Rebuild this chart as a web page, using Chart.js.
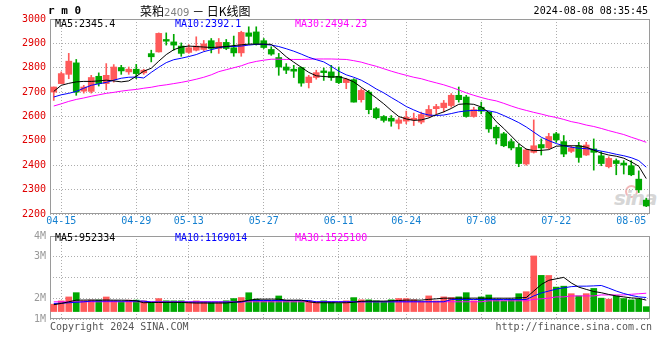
<!DOCTYPE html>
<html><head><meta charset="utf-8">
<script src="https://cdn.jsdelivr.net/npm/chart.js@4.4.1/dist/chart.umd.min.js"></script>
<style>
html,body{margin:0;padding:0;background:#fff;}
#wrap{position:relative;width:660px;height:360px;overflow:hidden;font-family:"DejaVu Sans Mono",monospace;font-size:10px;background:#fff;}
.t{position:absolute;white-space:pre;line-height:12px;z-index:2;}
canvas{position:absolute;left:0;z-index:1;}
#pc{top:0;}
#vc{top:226px;}
#wm{position:absolute;left:614px;top:186px;z-index:0;font-family:"DejaVu Sans",sans-serif;font-style:italic;font-weight:bold;font-size:20px;color:#d6d6d6;letter-spacing:-1px;}
#wmc{position:absolute;left:625px;top:185px;width:9px;height:9px;border:2px solid #f2b8b8;border-radius:50%;z-index:0;}
</style></head>
<body>
<div id="wrap">
  <div id="wmc"></div><div id="wm">sina</div>
  <div class="t" style="left:48px;top:5px;font-weight:bold;font-size:11px;">r m 0</div>
  <div class="t" style="left:140px;top:3px;font-family:'Noto Sans CJK SC',sans-serif;font-size:12px;line-height:16px;">菜粕<span style="color:#808080;font-family:'DejaVu Sans',sans-serif;font-size:10px;">2409</span> － 日K线图</div>
  <div class="t" style="right:12px;top:5px;">2024-08-08 08:35:45</div>
  <div class="t" id="lg1" style="left:55px;top:18px;color:#000;"></div>
  <div class="t" id="lg2" style="left:175px;top:18px;color:#0000ff;"></div>
  <div class="t" id="lg3" style="left:295px;top:18px;color:#ff00ff;"></div>
  <div class="t" id="vl1" style="left:55px;top:232px;color:#000;"></div>
  <div class="t" id="vl2" style="left:175px;top:232px;color:#0000ff;"></div>
  <div class="t" id="vl3" style="left:295px;top:232px;color:#ff00ff;"></div>
  <div class="t" style="left:50px;top:321px;color:#555;">Copyright 2024 SINA.COM</div>
  <div class="t" style="right:8px;top:321px;color:#555;">http://finance.sina.com.cn</div>
  <canvas id="pc" width="660" height="230"></canvas>
  <canvas id="vc" width="660" height="134"></canvas>
</div>
<script>
// ---------- data ----------
const dates = ['04-15','04-16','04-17','04-18','04-19','04-22','04-23','04-24','04-25','04-26','04-29','04-30',
'05-06','05-07','05-08','05-09','05-10','05-13','05-14','05-15','05-16','05-17','05-20','05-21','05-22','05-23','05-24','05-27','05-28','05-29','05-30','05-31',
'06-03','06-04','06-05','06-06','06-07','06-11','06-12','06-13','06-14','06-17','06-18','06-19','06-20','06-21','06-24','06-25','06-26','06-27','06-28',
'07-01','07-02','07-03','07-04','07-05','07-08','07-09','07-10','07-11','07-12','07-15','07-16','07-17','07-18','07-19','07-22','07-23','07-24','07-25','07-26','07-29','07-30','07-31',
'08-01','08-02','08-05','08-06','08-07','08-08'];
const dateTicks = ['04-15','04-29','05-13','05-27','06-11','06-24','07-08','07-22','08-05'];

const openP = [2700,2735,2773,2820,2704,2703,2765,2735,2751,2801,
2783,2794,2779,2858,2865,2916,2906,2889,2863,2872,
2875,2911,2879,2904,2882,2861,2943,2947,2911,2875,
2842,2803,2794,2801,2739,2760,2787,2783,2765,2739,
2751,2669,2700,2632,2600,2593,2572,2581,2586,2577,
2600,2632,2636,2645,2687,2680,2600,2638,2618,2556,
2529,2497,2473,2405,2453,2485,2471,2529,2497,2457,
2480,2442,2467,2439,2394,2419,2409,2398,2343,2257];
const highP = [2721,2783,2859,2834,2728,2769,2779,2817,2813,2810,
2803,2814,2794,2872,2943,2943,2937,2902,2895,2927,
2912,2920,2920,2916,2930,2950,2968,2968,2920,2886,
2859,2817,2810,2803,2769,2790,2799,2810,2803,2757,
2755,2714,2707,2637,2604,2604,2595,2622,2614,2618,
2645,2650,2666,2694,2721,2687,2638,2659,2618,2563,
2535,2508,2487,2467,2586,2508,2531,2535,2522,2480,
2494,2494,2508,2456,2435,2426,2419,2419,2377,2265];
const lowP = [2666,2735,2755,2687,2696,2696,2725,2710,2741,2773,
2773,2755,2773,2824,2864,2893,2872,2847,2859,2869,
2869,2861,2859,2874,2847,2847,2896,2893,2879,2851,
2769,2776,2760,2724,2717,2753,2748,2748,2735,2714,
2659,2659,2611,2590,2577,2560,2549,2570,2563,2570,
2597,2611,2618,2638,2659,2597,2597,2611,2535,2487,
2476,2463,2394,2400,2450,2442,2467,2494,2435,2452,
2412,2440,2380,2398,2389,2361,2364,2357,2288,2230];
const closeP = [2721,2776,2827,2700,2721,2760,2735,2769,2803,2787,
2794,2776,2790,2845,2941,2909,2893,2859,2882,2889,
2898,2879,2904,2879,2861,2945,2929,2899,2883,2856,
2803,2790,2786,2737,2762,2780,2780,2760,2739,2753,
2659,2707,2628,2595,2584,2581,2586,2597,2593,2608,
2629,2641,2655,2687,2669,2600,2628,2622,2549,2512,
2480,2471,2407,2463,2480,2471,2518,2504,2446,2471,
2432,2483,2453,2407,2428,2407,2401,2361,2299,2233];

const ma5 = [2703,2728,2736,2742,2744,2744,2746,2749,2746,2742,
2746,2765,2786,2798,2827,2854,2874,2885,2889,2887,
2885,2883,2885,2887,2891,2894,2897,2897,2897,2896,
2872,2845,2823,2802,2781,2767,2764,2762,2763,2755,
2742,2720,2699,2676,2652,2625,2600,2590,2584,2586,
2594,2608,2619,2633,2650,2652,2650,2639,2617,2579,
2551,2520,2489,2466,2460,2461,2464,2478,2480,2480,
2480,2474,2462,2450,2442,2437,2429,2414,2396,2345.4];
const ma10 = [2680,2689,2695,2703,2716,2728,2734,2740,2749,2757,
2761,2762,2758,2781,2802,2821,2833,2839,2846,2854,
2866,2874,2882,2887,2887,2889,2893,2896,2896,2893,
2887,2878,2868,2856,2843,2833,2824,2806,2786,2771,
2761,2749,2732,2713,2697,2678,2660,2641,2627,2614,
2606,2604,2606,2612,2619,2623,2625,2625,2623,2617,
2604,2590,2575,2557,2536,2515,2501,2489,2480,2474,
2470,2468,2464,2458,2452,2445,2439,2431,2419,2392.1];
const ma30 = [2643,2652,2662,2670,2676,2683,2689,2695,2699,2704,
2708,2711,2716,2720,2726,2730,2735,2740,2746,2753,
2761,2771,2784,2792,2800,2808,2819,2826,2831,2835,
2835,2834,2834,2834,2835,2836,2836,2836,2835,2834,
2829,2823,2814,2806,2796,2786,2777,2769,2761,2755,
2746,2738,2730,2720,2709,2697,2687,2678,2670,2664,
2654,2643,2633,2625,2617,2610,2602,2596,2588,2579,
2573,2565,2559,2551,2542,2534,2526,2515,2505,2494.23];

const volume = [612000,889000,1218000,1572000,896000,948000,955000,1214000,891000,842000,
947000,953000,893000,758000,1079000,897000,891000,894000,761000,889000,
815000,752000,759000,896000,1083000,1166000,1566000,1031000,892000,897000,
1298000,890000,896000,893000,887000,759000,895000,812000,677000,893000,
1161000,978000,973000,891000,839000,977000,1084000,1078000,975000,835000,
1303000,892000,1221000,1158000,1224000,1571000,896000,1217000,1379000,1036000,
893000,1031000,1486000,1652000,4630000,3011000,3004000,2036000,2112000,1487000,
1302000,1490000,1925000,1116000,1032000,1298000,1083000,974000,1035000,409000];
const volMa5 = [569000,675000,813000,951000,955000,960000,952000,958000,950000,948000,
935000,894000,732000,756000,760000,758000,762000,756000,732000,707000,
709000,705000,708000,710000,772000,837000,935000,1033000,1030000,1035000,
1032000,951000,948000,952000,813000,732000,735000,730000,733000,731000,
772000,854000,870000,868000,872000,894000,919000,951000,953000,949000,
1016000,1057000,1114000,1110000,1116000,1112000,1118000,1114000,1110000,1116000,
1112000,1114000,1138000,1163000,1707000,2252000,2602000,2724000,2846000,2382000,
2033000,1846000,1667000,1569000,1423000,1301000,1220000,1138000,1098000,952334];
const volMa10 = [675000,691000,732000,772000,813000,870000,871000,869000,872000,870000,
868000,871000,870000,789000,790000,788000,791000,789000,787000,790000,
788000,789000,791000,788000,790000,789000,919000,918000,920000,919000,
921000,918000,919000,920000,918000,813000,815000,812000,814000,813000,
815000,812000,814000,813000,816000,812000,814000,813000,815000,812000,
814000,813000,815000,1000000,1002000,998000,1001000,1000000,999000,1002000,
1000000,998000,1001000,1000000,1301000,1545000,1707000,1870000,1976000,2073000,
2114000,2114000,2138000,2171000,1951000,1707000,1504000,1341000,1220000,1169014];
const volMa30 = [810000,812000,813000,811000,814000,812000,813000,815000,812000,811000,
813000,814000,812000,813000,815000,812000,811000,813000,814000,812000,
813000,815000,812000,811000,813000,814000,812000,813000,815000,812000,
811000,813000,814000,812000,813000,815000,812000,811000,813000,814000,
812000,813000,815000,812000,811000,813000,814000,812000,813000,815000,
812000,814000,813000,815000,812000,813000,814000,812000,894000,894000,
896000,893000,895000,894000,1016000,1057000,1114000,1220000,1220000,1301000,
1301000,1303000,1300000,1382000,1383000,1381000,1384000,1439000,1480000,1525100];
const volTickLabels = ['1M','2M','','3M','4M'];

// ---------- styling ----------
const RED = '#ff5a5a', GREEN = '#00a800', GRID = '#adadad', FRAME = '#9a9a9a';
const MONO = {family:'DejaVu Sans Mono', size:10};
const last = a => a[a.length - 1];

document.getElementById('lg1').textContent = 'MA5:' + last(ma5);
document.getElementById('lg2').textContent = 'MA10:' + last(ma10);
document.getElementById('lg3').textContent = 'MA30:' + last(ma30);
document.getElementById('vl1').textContent = 'MA5:' + last(volMa5);
document.getElementById('vl2').textContent = 'MA10:' + last(volMa10);
document.getElementById('vl3').textContent = 'MA30:' + last(volMa30);

const colors = closeP.map((c, i) => c >= openP[i] ? RED : GREEN);
const pts = arr => arr.map((v, i) => ({x: i, y: v}));
const tickVals = dateTicks.map(d => dates.indexOf(d) + 1);
const hiddenGrid = last(tickVals);

const framePlugin = {
  id: 'frame',
  beforeDatasetsDraw(chart) {
    const {ctx, chartArea: a} = chart;
    ctx.save();
    ctx.strokeStyle = FRAME; ctx.lineWidth = 1; ctx.setLineDash([]);
    ctx.strokeRect(Math.round(a.left) + 0.5, Math.round(a.top) + 0.5,
      Math.round(a.right - a.left) - 1, Math.round(a.bottom - a.top) - 1);
    ctx.restore();
  }
};

function xScale(showLabels, h) {
  return {
    type: 'linear', min: -0.5, max: dates.length - 0.5, offset: false,
    afterBuildTicks: s => { s.ticks = tickVals.map(v => ({value: v})); },
    afterFit: s => { s.height = h; },
    ticks: {display: showLabels, autoSkip: false, maxRotation: 0, minRotation: 0,
      color: '#1580d0', font: MONO, padding: 1,
      callback: v => dates[v - 1]},
    grid: {offset: false, drawTicks: false,
      color: c => (c.tick && c.tick.value === hiddenGrid) ? 'rgba(0,0,0,0)' : GRID},
    border: {display: false, dash: [1, 2]}
  };
}
const lineDs = (label, data, color, axis) => ({type: 'line', label, data: pts(data), borderColor: color,
  borderWidth: 1, pointRadius: 0, tension: 0, order: 0, yAxisID: axis});

new Chart(document.getElementById('pc'), {
  type: 'bar',
  data: {datasets: [
    lineDs('MA5', ma5, '#000000', 'y'),
    lineDs('MA10', ma10, '#0000ff', 'y'),
    lineDs('MA30', ma30, '#ff00ff', 'y'),
    {label: 'body', data: openP.map((o, i) => ({x: i, y: [o, closeP[i]]})), backgroundColor: colors,
      barThickness: 6, grouped: false, order: 1, yAxisID: 'y'},
    {label: 'wick', data: lowP.map((l, i) => ({x: i, y: [l, highP[i]]})), backgroundColor: colors,
      barThickness: 1, grouped: false, order: 2, yAxisID: 'y'}
  ]},
  options: {
    responsive: false, animation: false, events: [],
    plugins: {legend: {display: false}, tooltip: {enabled: false}},
    layout: {padding: {top: 19, right: 10, left: 0, bottom: 0}},
    scales: {
      x: xScale(true, 16),
      y: {min: 2200, max: 3000, afterFit: s => { s.width = 50; },
        ticks: {stepSize: 100, color: '#e00000', font: MONO, padding: 4, callback: v => String(v)},
        grid: {color: GRID, drawTicks: false}, border: {display: false, dash: [1, 2]}}
    }
  },
  plugins: [framePlugin]
});

new Chart(document.getElementById('vc'), {
  type: 'bar',
  data: {datasets: [
    lineDs('MA5', volMa5, '#000000', 'yv'),
    lineDs('MA10', volMa10, '#0000ff', 'yv'),
    lineDs('MA30', volMa30, '#ff00ff', 'yv'),
    {label: 'vol', data: pts(volume), backgroundColor: colors, barThickness: 6, grouped: false,
      order: 1, yAxisID: 'yv'}
  ]},
  options: {
    responsive: false, animation: false, events: [],
    plugins: {legend: {display: false}, tooltip: {enabled: false}},
    layout: {padding: {top: 8, right: 10, left: 0, bottom: 0}},
    scales: {
      x: xScale(false, 41),
      yg: {type: 'linear', axis: 'y', position: 'left', min: 0, max: 4,
        afterFit: s => { s.width = 50; },
        ticks: {stepSize: 1, color: '#999999', font: MONO, padding: 4, callback: v => volTickLabels[v]},
        grid: {color: GRID, drawTicks: false}, border: {display: false, dash: [1, 2]}},
      yv: {type: 'linear', display: false, min: -620000, max: 6290000}
    }
  },
  plugins: [framePlugin]
});
</script>
</body></html>
